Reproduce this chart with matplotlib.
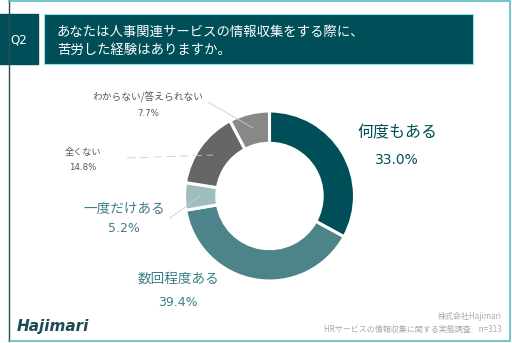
import matplotlib.pyplot as plt
from matplotlib.patches import Rectangle

plt.rcParams['font.family'] = ['Noto Sans CJK JP', 'DejaVu Sans']

# data
labels = ['何度もある', '数回程度ある', '一度だけある', '全くない', 'わからない/答えられない']
values = [33.0, 39.4, 5.2, 14.8, 7.7]
colors = ['#004f58', '#4d8489', '#9dbdbf', '#666666', '#888888']
label_colors = ['#004f58', '#3f7f86', '#3f7f86', '#555555', '#555555']

title_lines = ['あなたは人事関連サービスの情報収集をする際に、', '苦労した経験はありますか。']
footer = ['株式会社Hajimari', 'HRサービスの情報収集に関する実態調査　n=313']

W, H = 512, 343
fig = plt.figure(figsize=(W / 100, H / 100), dpi=100)

# donut
cx, cy, r = 269.5, 196, 85
pa = fig.add_axes([(cx - r) / W, (H - cy - r) / H, 2 * r / W, 2 * r / H])
pa.pie(values, colors=colors, startangle=90, counterclock=False,
       wedgeprops=dict(width=0.38, edgecolor='white', linewidth=2.2))
pa.set_xlim(-1, 1)
pa.set_ylim(-1, 1)
pa.axis('off')

# overlay axes in pixel coords (on top of the donut)
ov = fig.add_axes([0, 0, 1, 1])
ov.set_xlim(0, W)
ov.set_ylim(H, 0)
ov.axis('off')

# frame
ov.plot([9, 9], [0, 341], color='#2b4f52', lw=1)
ov.plot([9, 510, 510, 9], [1, 1, 341, 341], color='#5bbcc4', lw=1.2)

# header
ov.add_patch(Rectangle((0, 14), 38, 50, color='#004f58'))
ov.add_patch(Rectangle((44, 14), 429, 50, facecolor='#004f58', edgecolor='#8fe0e8', lw=0.8))
ov.text(19, 40, 'Q2', color='white', fontsize=8.5, ha='center', va='center', family='DejaVu Sans')
ov.text(57, 32, title_lines[0], color='white', fontsize=9.6, va='center')
ov.text(57, 50, title_lines[1], color='white', fontsize=9.6, va='center')

# labels
pos = [(397, 133, 160), (178, 279, 302), (124, 208, 229), (83, 152, 168), (148, 97, 113)]
sizes = [(11.5, 10), (9.8, 9), (9.8, 9), (6.6, 6.2), (7, 6.2)]
for i, (x, y1, y2) in enumerate(pos):
    ov.text(x, y1, labels[i], color=label_colors[i], fontsize=sizes[i][0], ha='center', va='center')
    ov.text(x, y2, f'{values[i]:.1f}%', color=label_colors[i], fontsize=sizes[i][1], ha='center', va='center',
            family='DejaVu Sans')

# leader lines
ov.plot([208, 253], [102, 128], color='#cccccc', lw=0.6)
ov.plot([127, 213], [158, 155], color='#cccccc', lw=0.6, dashes=(10, 6))
ov.plot([170, 200], [218, 196], color='#cccccc', lw=0.6)

# logo + footer
ov.text(17, 327, 'Hajimari', color='#1b4c52', fontsize=11, fontweight='bold', style='italic',
        va='center', family='DejaVu Sans')
ov.text(502, 316, footer[0], color='#aaaaaa', fontsize=5.8, ha='right', va='center')
ov.text(502, 329, footer[1], color='#aaaaaa', fontsize=5.8, ha='right', va='center')

fig.savefig('out.png', dpi=100)
